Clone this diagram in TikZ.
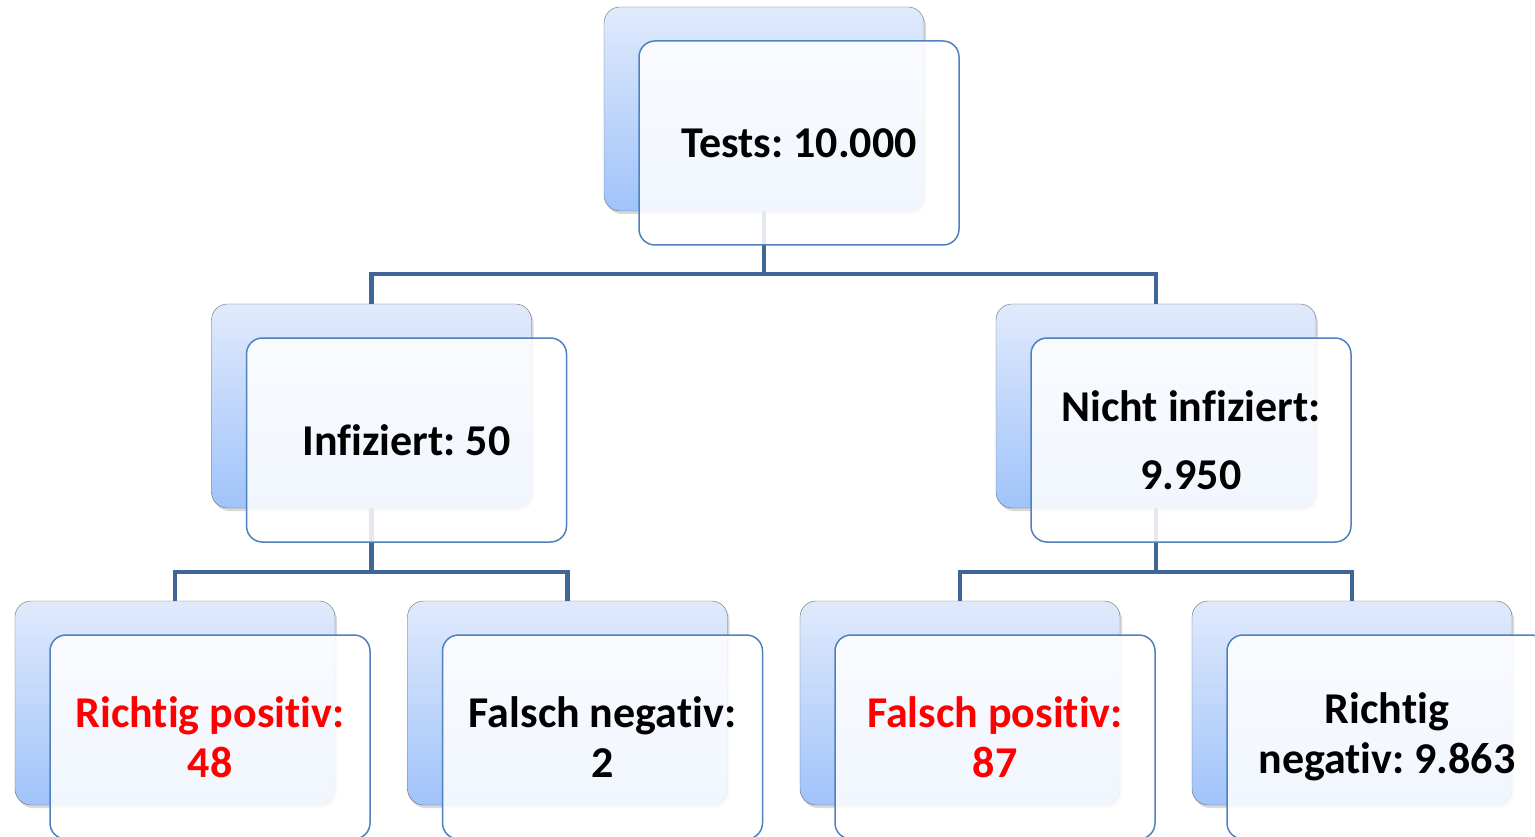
\documentclass[tikz,border=0pt]{standalone}
\usepackage{fontspec}
\setmainfont{Carlito}[RawFeature=-liga]
\frenchspacing
\usetikzlibrary{positioning,shadows}
\definecolor{linkblue}{RGB}{65,102,150}
\definecolor{frameblue}{RGB}{79,129,189}
\definecolor{backtop}{RGB}{224,234,252}
\definecolor{backbot}{RGB}{160,195,250}
\definecolor{hitred}{RGB}{255,0,0}

\begin{document}
\begin{tikzpicture}[x=1pt, y=-1pt,
  back/.style={draw=gray!85!black, rounded corners=16pt, minimum width=320pt,
               minimum height=204pt, top color=backtop, bottom color=backbot,
               drop shadow={shadow xshift=2pt, shadow yshift=-3pt, opacity=0.3}},
  front/.style={draw=frameblue, line width=1.5pt, rounded corners=16pt,
                minimum width=320pt, minimum height=204pt, fill=white,
                fill opacity=0.86, text opacity=1, align=center, shift={(35,34)},
                font=\bfseries\fontsize{44}{50}\selectfont},
  link/.style={draw=linkblue, line width=4.5pt},
  hit/.style={text=hitred}]
\useasboundingbox (0,0) rectangle (1535,837);
% back cards
\node[back] (tests) at (764,109) {};
\node[back] (inf)   at (371.5,406) {};
\node[back] (ninf)  at (1156,406) {};
\node[back] (rp)    at (175,703) {};
\node[back] (fn)    at (567.5,703) {};
\node[back] (fp)    at (960,703) {};
\node[back] (rn)    at (1352,703) {};
% tree links
\draw[link] (tests.south) -- ++(0,63) coordinate (split0) -| (inf.north);
\draw[link] (split0) -| (ninf.north);
\draw[link] (inf.south) -- ++(0,64) coordinate (split1) -| (rp.north);
\draw[link] (split1) -| (fn.north);
\draw[link] (ninf.south) -- ++(0,64) coordinate (split2) -| (fp.north);
\draw[link] (split2) -| (rn.north);
% front cards
\node[front] (testsF) at (tests) {Tests: 10.000};
\node[front] (infF)   at (inf)   {Infiziert: 50};
\node[front] (ninfF)  at (ninf)  {Nicht infiziert:\\[18pt] 9.950};
\node[front, hit] (rpF) at (rp) {Richtig positiv:\\ 48};
\node[front] (fnF)    at (fn)    {Falsch negativ:\\ 2};
\node[front, hit] (fpF) at (fp) {Falsch positiv:\\ 87};
\node[front] (rnF)    at (rn)    {Richtig\\ negativ: 9.863};
\end{tikzpicture}
\end{document}
